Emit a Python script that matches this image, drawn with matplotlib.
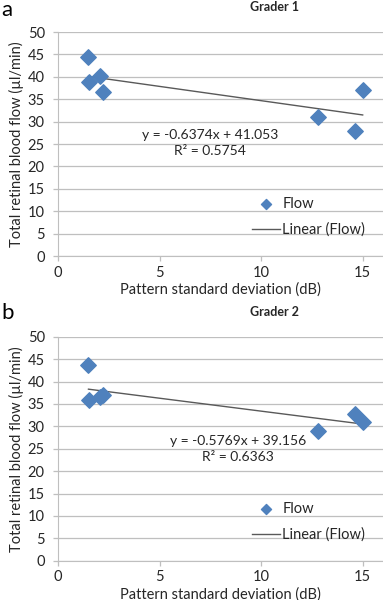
import numpy as np
import matplotlib
matplotlib.use("Agg")
import matplotlib.pyplot as plt

plt.rcParams['font.family'] = ['Lato', 'DejaVu Sans']

# Grader 1
psd_1 = [1.5, 1.55, 2.05, 2.2, 12.8, 14.6, 15.0]
flow_1 = [44.4, 38.9, 40.2, 36.7, 31.1, 27.9, 37.0]
fit_1 = (-0.6374, 41.053)
eq_1 = ["y = -0.6374x + 41.053", "R² = 0.5754"]

# Grader 2
psd_2 = [1.5, 1.55, 2.05, 2.2, 12.8, 14.6, 15.0]
flow_2 = [43.6, 35.8, 36.6, 36.9, 28.9, 32.7, 30.9]
fit_2 = (-0.5769, 39.156)
eq_2 = ["y = -0.5769x + 39.156", "R² = 0.6363"]

xticks = [0, 5, 10, 15]
yticks = [0, 5, 10, 15, 20, 25, 30, 35, 40, 45, 50]

blue = '#4F81BD'
grid = '#BFBFBF'
txt = '#262626'

fig = plt.figure(figsize=(3.83, 6.0), dpi=100)

panels = [
    (psd_1, flow_1, fit_1, eq_1, 'a', 'Grader 1', 0.5733, (210, 135), 16),
    (psd_2, flow_2, fit_2, eq_2, 'b', 'Grader 2', 0.0655, (238, 441), 319),
]

for x, y, (m, b), eq, letter, title, bottom, eqpos, letter_y in panels:
    ax = fig.add_axes([0.1514, bottom, 0.8486, 0.3733])
    ax.set_xlim(0, 16)
    ax.set_ylim(0, 50)
    ax.set_xticks(xticks)
    ax.set_yticks(yticks)
    ax.yaxis.grid(True, color=grid, lw=0.9)
    ax.set_axisbelow(True)
    for s in ['top', 'right']:
        ax.spines[s].set_visible(False)
    for s in ['left', 'bottom']:
        ax.spines[s].set_color(grid)
    ax.tick_params(colors=grid, labelcolor=txt, labelsize=10.5, length=3.5, width=0.9)
    ax.tick_params(axis='y', pad=6)
    ax.scatter(x, y, marker='D', s=62, color=blue, zorder=3, label='Flow')
    xs = np.array([min(x), max(x)])
    ax.plot(xs, m * xs + b, color='#595959', lw=1.0, zorder=2, label='Linear (Flow)')
    ax.set_ylabel('Total retinal blood flow (µl/min)', fontsize=10.5, color=txt, labelpad=3)
    ax.set_xlabel('Pattern standard deviation (dB)', fontsize=10.5, color=txt, labelpad=2)
    leg = ax.legend(loc='lower left', bbox_to_anchor=(0.597, 0.085), frameon=False,
                    fontsize=10.5, handlelength=1.92, labelspacing=0.8, handletextpad=0.15,
                    borderpad=0, borderaxespad=0, markerscale=0.65)
    for t in leg.get_texts():
        t.set_color(txt)
    fig.text(eqpos[0] / 383, 1 - eqpos[1] / 600, eq[0], ha='center', va='center',
             fontsize=10, color=txt)
    fig.text(eqpos[0] / 383, 1 - (eqpos[1] + 16) / 600, eq[1], ha='center', va='center',
             fontsize=10, color=txt)
    top = bottom + 0.3733
    fig.text(0.003, 1 - letter_y / 600, letter, fontsize=16, color='black',
             va='baseline', ha='left')
    fig.text(275 / 383, top + 0.042, title, fontsize=9, fontweight='bold',
             color=txt, ha='center', va='center')

fig.savefig('out.png', dpi=100)
